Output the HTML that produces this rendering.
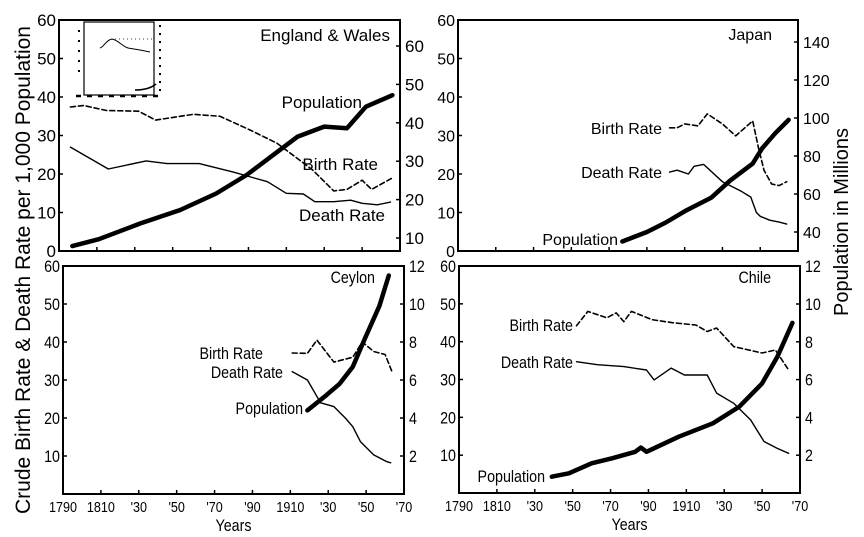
<!DOCTYPE html>
<html><head><meta charset="utf-8"><style>
body{margin:0;background:#fff;}
svg{display:block;font-family:"Liberation Sans",Arial,sans-serif;}
</style></head><body>
<svg id="c" width="864" height="537" viewBox="0 0 864 537">
<text transform="translate(30,270) rotate(-90)" text-anchor="middle" font-size="21">Crude Birth Rate &amp; Death Rate per 1,000 Population</text>
<text transform="translate(848,222) rotate(-90)" text-anchor="middle" font-size="20">Population in Millions</text>
<g stroke="#000" fill="none">
<rect x="84" y="22" width="70" height="73" stroke-width="1.2"/>
<path d="M76,96 H160" stroke-width="2.5" stroke-dasharray="5,6"/>
<path d="M100,48 C104,47 106,40 112,39 C118,40 122,46 128,48 L140,50 L150,52" stroke-width="1"/>
<path d="M115,39 H152" stroke-width="0.8" stroke-dasharray="1,3"/>
<path d="M135,90 C142,90 150,89 156,84" stroke-width="1.5"/>
<path d="M160,25 V95" stroke-width="2" stroke-dasharray="2,6"/>
<path d="M79,30 V80" stroke-width="2" stroke-dasharray="2,8"/>
</g>
</svg>
<script>
// England & Wales
const ewBirthYears=[1796,1803,1815,1832,1841,1861,1875,1891,1905,1917,1924,1935,1942,1950,1955,1966];
const ewBirth=[37.4,37.8,36.5,36.3,34,35.5,35,31.4,28,23.6,21,15.6,16,18.4,16,19];
const ewDeathYears=[1796,1816,1836,1847,1864,1882,1900,1910,1919,1925,1935,1944,1950,1958,1965];
const ewDeath=[27,21.3,23.4,22.7,22.7,20.5,18,15,14.8,12.8,12.8,13.2,12.4,12,12.7];
const ewPopYears=[1797,1811,1833,1854,1873,1889,1909,1916,1930,1942,1952,1966];
const ewPop=[7.9,9.7,13.8,17.3,21.6,26.4,33.8,36.4,39,38.6,44.2,47.2];
// Japan
const jpBirthYears=[1902,1906,1910,1917,1922,1930,1937,1946,1949,1952,1956,1960,1964];
const jpBirth=[32,32,33,32.5,35.6,33,29.9,33.8,27,21,17.4,17,18];
const jpDeathYears=[1902,1906,1912,1915,1920,1930,1940,1945,1948,1950,1955,1960,1964];
const jpDeath=[20.5,21,20,22,22.5,18,15.5,14,10,9,8,7.5,7];
const jpPopYears=[1877,1890,1900,1911,1924,1934,1946,1951,1958,1965];
const jpPop=[35,40,45,51.5,58,67,76,84,92,99];
// Ceylon
const ceBirthYears=[1911,1919,1924,1933,1943,1948,1954,1960,1964];
const ceBirth=[37.1,37,40.5,34.7,36,40,37.5,36.7,31.8];
const ceDeathYears=[1911,1919,1926,1933,1939,1943,1947,1954,1961,1963];
const ceDeath=[32.2,30,24,23,20,17.7,13.8,10.3,8.5,8.2];
const cePopYears=[1919,1929,1936,1943,1949,1957,1962];
const cePop=[4.4,5.2,5.8,6.7,8.1,9.9,11.5];
// Chile
const chBirthYears=[1852,1858,1868,1873,1877,1881,1892,1903,1915,1921,1926,1935,1950,1957,1964];
const chBirth=[44.2,48,46.3,47.6,45.3,48,45.8,45,44.4,42.7,43.6,38.7,37,37.8,32.5];
const chDeathYears=[1852,1863,1877,1889,1893,1902,1909,1921,1926,1935,1944,1951,1958,1964];
const chDeath=[34.7,33.9,33.4,32.5,29.9,33,31.2,31.2,26.4,23.7,19.3,13.6,11.8,10.5];
const chPopYears=[1839,1848,1860,1871,1883,1886,1889,1906,1924,1938,1950,1958,1966];
const chPop=[0.86,1.04,1.57,1.84,2.18,2.4,2.18,2.98,3.69,4.57,5.8,7.2,9.0];
const xTickLabels=["1790","1810","'30","'50","'70","'90","1910","'30","'50","'70"];
const leftTicksTop=[0,10,20,30,40,50,60];
const leftTicksBottom=[10,20,30,40,50,60];

const NS="http://www.w3.org/2000/svg";
const svg=document.getElementById('c');
function mk(tag,attrs,parent){const e=document.createElementNS(NS,tag);for(const k in attrs)e.setAttribute(k,attrs[k]);(parent||svg).appendChild(e);return e;}
function txt(g,x,y,s,anchor,fs,narrow){
  const t=mk('text',{x:0,y:0,'text-anchor':anchor,'font-size':fs,transform:'translate('+x+','+y+') scale('+(narrow?0.84:1)+',1)'},g);
  t.textContent=s;
  return t;
}

function panel(p){
  const g=mk('g',{});
  
  
  const xs=y=>p.l+(y-1790)/180*(p.r-p.l);
  const ys=v=>p.b-(v/60)*(p.b-p.t);
  const ry=v=>p.ry0-(v-p.rv0)*p.rk;
  const frame=mk('rect',{x:p.l,y:p.t,width:p.r-p.l,height:p.b-p.t,fill:'none',stroke:'#000','stroke-width':2},g);
  
  
  for(let i=0;i<10;i++){
    const x=xs(1790+i*20);
    mk('line',{x1:x,x2:x,y1:p.b,y2:p.b-4,stroke:'#000','stroke-width':1.5},g);
    if(p.xl){
      const t=txt(g,x,p.b+18,xTickLabels[i],'middle',15,true);
      
      
    }
  }
  if(p.xl){
    const t=txt(g,(p.l+p.r)/2,p.b+37,'Years','middle',17,true);
    
    
  }
  p.lt.forEach(v=>{
    const y=ys(v);
    mk('line',{x1:p.l,x2:p.l+4,y1:y,y2:y,stroke:'#000','stroke-width':1.5},g);
    const t=txt(g,p.l-3,y+6,String(v),'end',p.fs,p.narrow);
    
    
  });
  p.rt.forEach(v=>{
    const y=ry(v);
    mk('line',{x1:p.r,x2:p.r-4,y1:y,y2:y,stroke:'#000','stroke-width':1.5},g);
    const t=txt(g,p.r+5,y+6,String(v),'start',p.fs,p.narrow);
    
    
  });
  const line=(yrs,vals,f,w,dash,name)=>{
    const d=yrs.map((y,i)=>(i?'L':'M')+xs(y).toFixed(1)+','+f(vals[i]).toFixed(1)).join(' ');
    const e=mk('path',{d:d,fill:'none',stroke:'#000','stroke-width':w,'stroke-linejoin':'round','stroke-linecap':'round'},g);
    if(dash)e.setAttribute('stroke-dasharray',dash);
    
    
  };
  line(p.by,p.bv,ys,1.6,'5,3','birth-rate-line');
  line(p.dy,p.dv,ys,1.4,null,'death-rate-line');
  line(p.py,p.pv,ry,4.5,null,'population-line');
  p.labels.forEach(L=>{
    const t=txt(g,L[1],L[2],L[0],L[3]||'start',p.fs,p.narrow);
    
    
  });
}

panel({name:'england-wales-panel',l:59,r:400,t:20,b:251,ry0:238,rv0:10,rk:3.84,lt:leftTicksTop,rt:[10,20,30,40,50,60],fs:17,narrow:false,xl:false,
 by:ewBirthYears,bv:ewBirth,dy:ewDeathYears,dv:ewDeath,py:ewPopYears,pv:ewPop,
 labels:[['England & Wales',390,41,'end','panel-title'],['Population',362,108,'end','population-label'],['Birth Rate',378,170,'end','birth-rate-label'],['Death Rate',385,221,'end','death-rate-label']]});
panel({name:'japan-panel',l:458,r:798,t:20,b:251,ry0:232,rv0:40,rk:1.9,lt:leftTicksTop,rt:[40,60,80,100,120,140],fs:16,narrow:false,xl:false,
 by:jpBirthYears,bv:jpBirth,dy:jpDeathYears,dv:jpDeath,py:jpPopYears,pv:jpPop,
 labels:[['Japan',772,40,'end','panel-title'],['Birth Rate',662,134,'end','birth-rate-label'],['Death Rate',662,178,'end','death-rate-label'],['Population',618,245,'end','population-label']]});
panel({name:'ceylon-panel',l:63,r:404,t:266,b:494,ry0:494,rv0:0,rk:19,lt:leftTicksBottom,rt:[2,4,6,8,10,12],fs:17,narrow:true,xl:true,
 by:ceBirthYears,bv:ceBirth,dy:ceDeathYears,dv:ceDeath,py:cePopYears,pv:cePop,
 labels:[['Ceylon',375,283,'end','panel-title'],['Birth Rate',263,359,'end','birth-rate-label'],['Death Rate',283,378,'end','death-rate-label'],['Population',303,414,'end','population-label']]});
panel({name:'chile-panel',l:459,r:800,t:266,b:493,ry0:493,rv0:0,rk:18.9,lt:leftTicksBottom,rt:[2,4,6,8,10,12],fs:17,narrow:true,xl:true,
 by:chBirthYears,bv:chBirth,dy:chDeathYears,dv:chDeath,py:chPopYears,pv:chPop,
 labels:[['Chile',771,283,'end','panel-title'],['Birth Rate',573,331,'end','birth-rate-label'],['Death Rate',573,368,'end','death-rate-label'],['Population',545,482,'end','population-label']]});
</script>
</body></html>
